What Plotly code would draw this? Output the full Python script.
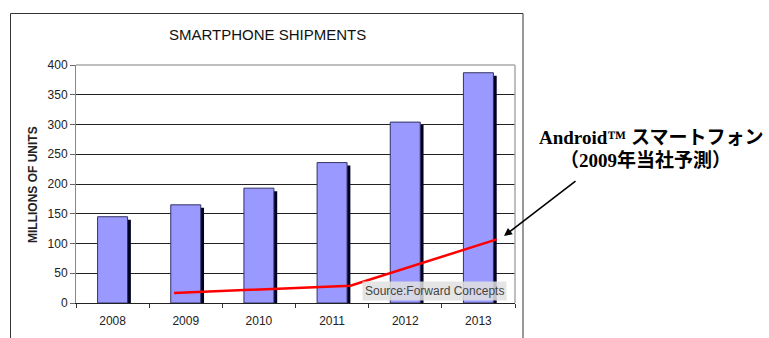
import plotly.graph_objects as go

# Data
years = [2008, 2009, 2010, 2011, 2012, 2013]
shipments = [145, 165, 193, 236, 304, 387]
tick_labels = ["2008", "2009", "2010", "2011", "2012", "2013"]
android_x = [2008.84, 2011.25, 2013.25]
android_y = [17, 29, 107]

W, H = 769, 338
L, R, T, B = 76, 515, 65, 303
pw, ph = R - L, B - T

def px(x):
    return (x - L) / pw

def py(y):
    return (B - y) / ph

fig = go.Figure()

bar_w = 0.41
off = -0.205
# shadow
fig.add_trace(go.Bar(
    x=years, y=[v - 5 for v in shipments], width=bar_w, offset=off + 0.045,
    marker=dict(color="#000022", line=dict(width=0)), hoverinfo="skip", showlegend=False))
# main bars
fig.add_trace(go.Bar(
    x=years, y=shipments, width=bar_w, offset=off,
    marker=dict(color="#9999FF", line=dict(color="#333366", width=1)), showlegend=False))
# android line
fig.add_trace(go.Scatter(
    x=android_x, y=android_y, mode="lines",
    line=dict(color="#FF0000", width=2.5), showlegend=False))

def ann(text, x, y, **kw):
    d = dict(text=text, xref="paper", yref="paper", x=px(x), y=py(y),
             xanchor="center", yanchor="middle", showarrow=False)
    d.update(kw)
    return d

fig.update_layout(
    width=W, height=H,
    margin=dict(l=L, r=W - R, t=T, b=H - B, autoexpand=False),
    paper_bgcolor="white", plot_bgcolor="white",
    barmode="overlay",
    font=dict(family="Liberation Sans, Arial, sans-serif", size=12, color="#222"),
    xaxis=dict(
        type="linear", range=[2007.5, 2013.5], automargin=False,
        tickvals=years, ticktext=tick_labels, ticks="",
        showgrid=False, zeroline=False,
        showline=True, linecolor="#222", linewidth=1,
        tickfont=dict(size=12, color="#222"),
        ticklabelstandoff=7,
        minor=dict(tickvals=[y + 0.5 for y in range(2007, 2014)], ticks="outside",
                   ticklen=4, tickcolor="#333", showgrid=False),
    ),
    yaxis=dict(
        range=[0, 400], tickvals=list(range(0, 401, 50)), automargin=False,
        ticks="outside", ticklen=5, tickcolor="#666",
        showgrid=True, gridcolor="#222", gridwidth=1,
        zeroline=False, showline=True, linecolor="#888", linewidth=1,
        tickfont=dict(size=12, color="#222"),
    ),
    shapes=[
        dict(type="rect", xref="paper", yref="paper",
             x0=px(10.5), x1=px(523), y0=py(345), y1=py(13.5),
             line=dict(color="#333", width=1), fillcolor="rgba(0,0,0,0)", layer="below"),
        dict(type="line", xref="paper", yref="paper", x0=0, x1=1, y0=1, y1=1,
             line=dict(color="#aaa", width=1.5), layer="above"),
        dict(type="line", xref="paper", yref="paper", x0=1, x1=1, y0=0, y1=1,
             line=dict(color="#aaa", width=1.5), layer="above"),
    ],
    annotations=[
        ann("SMARTPHONE SHIPMENTS", 267, 34, font=dict(size=15, color="#111")),
        ann("<b>MILLIONS OF UNITS</b>", 33, 185, textangle=-90,
            font=dict(size=12, color="#222")),
        ann("Source:Forward Concepts", 434, 291,
            bgcolor="rgba(225,225,225,0.85)", borderpad=2,
            font=dict(size=12, color="#444")),
        ann("<b>Android™ スマートフォン</b>", 651, 137,
            font=dict(family="Liberation Serif, Noto Sans CJK JP, serif", size=19, color="#000")),
        ann("<b>（2009年当社予測）</b>", 645, 160,
            font=dict(family="Liberation Serif, Noto Sans CJK JP, serif", size=19, color="#000")),
        dict(text="", xref="paper", yref="paper", x=px(504), y=py(236),
             ax=577 - 504, ay=180 - 236, showarrow=True,
             arrowhead=2, arrowsize=1, arrowwidth=1.6, arrowcolor="#000"),
    ],
)

fig.write_html("out.html")
